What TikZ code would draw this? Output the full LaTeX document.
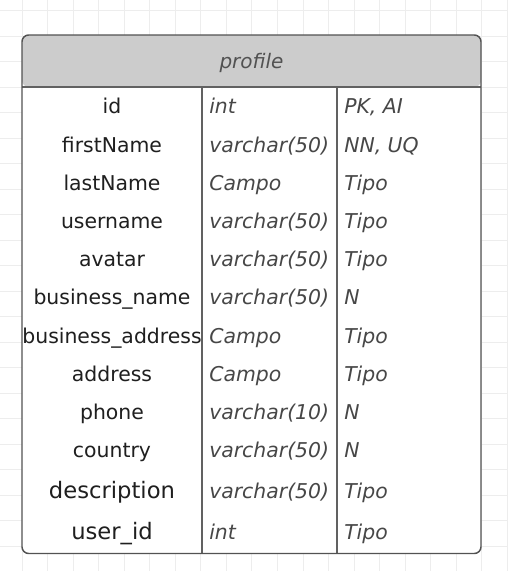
\documentclass[tikz,border=0pt]{standalone}
\usepackage{fontspec}
\setmainfont{DejaVu Sans}
\begin{document}
\begin{tikzpicture}[x=0.75pt,y=-0.75pt,
  gridline/.style={draw=black!7,line width=0.75pt},
  frame/.style={draw=black!68,line width=1.1pt},
  divider/.style={draw=black!62,line width=1.1pt},
  headtext/.style={font=\fontsize{15}{18}\selectfont\itshape,text=black!68,inner sep=0pt,anchor=base},
  fieldtext/.style={font=\fontsize{15.3}{18}\selectfont,text=black!88,inner sep=0pt,anchor=base},
  bigfield/.style={fieldtext,font=\fontsize{17}{20}\selectfont},
  typetext/.style={font=\fontsize{15.3}{18}\selectfont\itshape,text=black!72,inner sep=0pt,anchor=base west},
]
\useasboundingbox (0,0) rectangle (507,571);
\fill[white] (0,0) rectangle (507,571);

% background grid
\foreach \k in {0,...,22} {
  \draw[gridline] (0,{10.5+25.5*\k}) -- (507,{10.5+25.5*\k});
}
\foreach \k in {0,...,19} {
  \draw[gridline] ({22+25.55*\k},0) -- ({22+25.55*\k},571);
}

% table body and header
\fill[white,rounded corners=5] (22,35) rectangle (481,553.5);
\fill[black!20,rounded corners=5] (22,87) -- (22,35) -- (481,35) -- (481,87) -- cycle;
\draw[divider] (22,87) -- (481,87);
\draw[divider] (202,87) -- (202,553.5);
\draw[divider] (337,87) -- (337,553.5);
\draw[frame,rounded corners=5] (22,35) rectangle (481,553.5);

\node[headtext] (title) at (251.5,68) {profile};

% field rows: name, type, constraints
\foreach \n/\y/\f/\t/\c in {
  id/113/id/int/{PK, AI},
  fn/152/firstName/varchar(50)/{NN, UQ},
  ln/190/lastName/Campo/Tipo,
  un/228/username/varchar(50)/Tipo,
  av/266/avatar/varchar(50)/Tipo,
  bn/304/business\_name/varchar(50)/N,
  ba/343/business\_address/Campo/Tipo,
  ad/381/address/Campo/Tipo,
  ph/419/phone/varchar(10)/N,
  co/457/country/varchar(50)/N} {
  \node[fieldtext] (\n-name) at (112,\y) {\f};
  \node[typetext] (\n-type) at (209,\y) {\t};
  \node[typetext] (\n-key) at (344,\y) {\c};
}
\node[bigfield] (de-name) at (112,498) {description};
\node[typetext] (de-type) at (209,498) {varchar(50)};
\node[typetext] (de-key) at (344,498) {Tipo};
\node[bigfield] (ui-name) at (112,539) {user\_id};
\node[typetext] (ui-type) at (209,539) {int};
\node[typetext] (ui-key) at (344,539) {Tipo};
\end{tikzpicture}
\end{document}
